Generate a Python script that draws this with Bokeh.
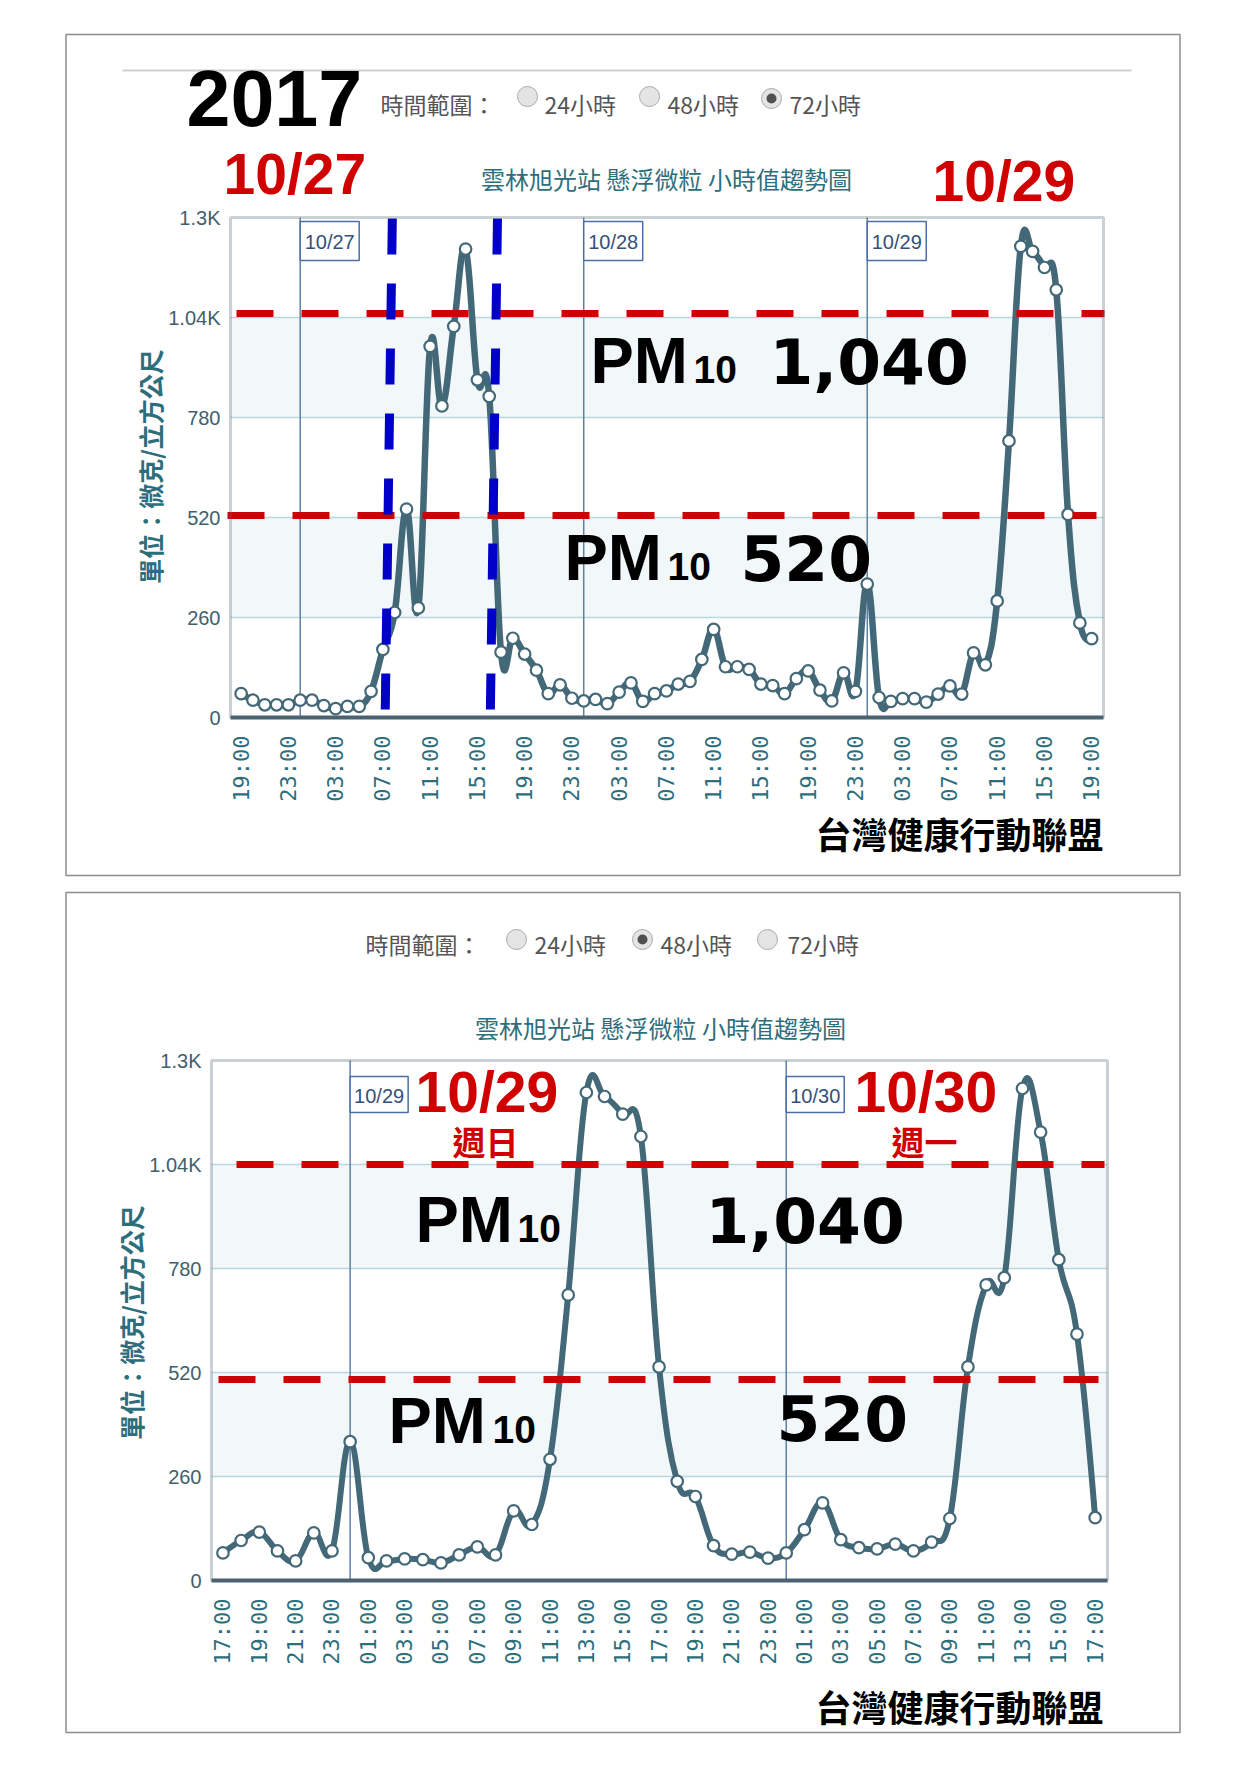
import math
from bokeh.plotting import figure
from bokeh.models import Label, BoxAnnotation, FixedTicker, Range1d, LinearAxis
from bokeh.embed import file_html
from bokeh.resources import INLINE

# ---------------- data ----------------
top_values = [62, 45, 33, 33, 33, 45, 45, 31, 23, 29, 29, 68, 177, 273, 542, 285, 965, 810,
              1017, 1218, 878, 835, 170, 206, 165, 123, 62, 85, 50, 43, 47, 36, 66, 90, 42, 62,
              69, 87, 94, 151, 229, 132, 132, 125, 87, 83, 62, 101, 121, 71, 43, 116, 68, 347,
              52, 42, 49, 49, 40, 61, 82, 61, 168, 137, 303, 719, 1225, 1212, 1170, 1112, 528,
              246, 205]
top_tick_labels = ["19:00", "23:00", "03:00", "07:00", "11:00", "15:00", "19:00", "23:00",
                   "03:00", "07:00", "11:00", "15:00", "19:00", "23:00", "03:00", "07:00",
                   "11:00", "15:00", "19:00"]
top_tick_step = 4
top_day_names = ["10/27", "10/28", "10/29"]
top_day_pos = [5, 29, 53]
top_window = [12.5, 21.4]

bottom_values = [69, 100, 121, 74, 49, 119, 74, 347, 57, 49, 54, 52, 44, 64, 84, 64, 174, 140,
                 303, 714, 1220, 1210, 1166, 1110, 534, 248, 210, 87, 66, 71, 56, 69, 127, 194,
                 102, 82, 79, 91, 74, 96, 155, 534, 739, 757, 1230, 1121, 802, 616, 157]
bottom_tick_labels = ["17:00", "19:00", "21:00", "23:00", "01:00", "03:00", "05:00", "07:00",
                      "09:00", "11:00", "13:00", "15:00", "17:00", "19:00", "21:00", "23:00",
                      "01:00", "03:00", "05:00", "07:00", "09:00", "11:00", "13:00", "15:00",
                      "17:00"]
bottom_tick_step = 2
bottom_day_names = ["10/29", "10/30"]
bottom_day_pos = [7, 31]

y_ticks = [0, 260, 520, 780, 1040, 1300]
y_tick_labels = ["0", "260", "520", "780", "1.04K", "1.3K"]
thresholds = [1040, 520]
bands = [(260, 520), (780, 1040)]
radio_labels = ["24小時", "48小時", "72小時"]
title_text = "雲林旭光站 懸浮微粒 小時值趨勢圖"
axis_title = "單位：微克/立方公尺"
range_label = "時間範圍："
footer = "台灣健康行動聯盟"

# ---------------- styles ----------------
SERIES = "#436877"
RED = "#d10000"
TEAL = "#2d6e7c"
BLUE = "#0000c8"
CJK = "Noto Sans CJK TC"


class Map:
    """page pixel -> data coordinate of one chart frame"""
    def __init__(self, left, top, w, h, xr, yr):
        self.left, self.top, self.w, self.h, self.xr, self.yr = left, top, w, h, xr, yr

    def x(self, X):
        return self.xr[0] + (X - self.left) * (self.xr[1] - self.xr[0]) / self.w

    def y(self, Y):
        return self.yr[0] + (self.top + self.h - Y) * (self.yr[1] - self.yr[0]) / self.h

    def X(self, x):
        return self.left + (x - self.xr[0]) * self.w / (self.xr[1] - self.xr[0])

    def py(self):
        return (self.yr[1] - self.yr[0]) / self.h


def spline(xs, ys, smoothing=1.5):
    n = len(xs)
    cps = []
    for i in range(n):
        x, y = xs[i], ys[i]
        if 0 < i < n - 1:
            lx, ly, nx, ny = xs[i - 1], ys[i - 1], xs[i + 1], ys[i + 1]
            d = smoothing + 1
            lcx, lcy = (smoothing * x + lx) / d, (smoothing * y + ly) / d
            rcx, rcy = (smoothing * x + nx) / d, (smoothing * y + ny) / d
            corr = ((rcy - lcy) * (rcx - x)) / (rcx - lcx) + y - rcy
            cps.append(((lcx, lcy + corr), (rcx, rcy + corr)))
        else:
            cps.append(((x, y), (x, y)))
    out = dict(x0=[], y0=[], x1=[], y1=[], cx0=[], cy0=[], cx1=[], cy1=[])
    for i in range(n - 1):
        out["x0"].append(xs[i]); out["y0"].append(ys[i])
        out["x1"].append(xs[i + 1]); out["y1"].append(ys[i + 1])
        out["cx0"].append(cps[i][1][0]); out["cy0"].append(cps[i][1][1])
        out["cx1"].append(cps[i + 1][0][0]); out["cy1"].append(cps[i + 1][0][1])
    return out


# page geometry of the two chart frames (figure drawn from page pixel 0,0)
m1 = Map(230, 217, 873, 500, (-0.9, 73.0), (0, 1300))
m2 = Map(211, 1060, 896, 520, (-0.63, 48.68), (0, 1300))
PAGE_L, PAGE_T, PAGE_R, PAGE_B = 0, 0, 1225, 1750

p = figure(width=PAGE_R - PAGE_L, height=PAGE_B - PAGE_T,
           x_range=Range1d(m1.x(PAGE_L), m1.x(PAGE_R)),
           y_range=Range1d(m1.y(PAGE_B), m1.y(PAGE_T)),
           x_axis_type=None, y_axis_type=None, output_backend="svg", toolbar_location=None,
           min_border=0)
p.extra_x_ranges = {"x2": Range1d(m2.x(PAGE_L), m2.x(PAGE_R))}
p.extra_y_ranges = {"y2": Range1d(m2.y(PAGE_B), m2.y(PAGE_T))}
p.outline_line_color = None
p.background_fill_color = "white"


def txt(X, Y, s, size, color="#000000", font="Liberation Sans", style="normal",
        align="left", base=False, angle=0.0):
    if base:  # Y given as baseline: move to the middle of the capitals
        Y = Y - 0.36 * size
    p.add_layout(Label(x=m1.x(X), y=m1.y(Y), text=s, text_font=font,
                       text_font_size=f"{size}px", text_color=color, text_font_style=style,
                       text_align=align, text_baseline="middle", angle=angle))


def box(L, T, R, B, fill=None, line=None, lw=1.0, radius=0, level="annotation"):
    p.add_layout(BoxAnnotation(left=m1.x(L), right=m1.x(R), top=m1.y(T), bottom=m1.y(B),
                               fill_color=fill if fill else "white",
                               fill_alpha=1 if fill else 0, line_color=line if line else "white",
                               line_width=lw, line_alpha=1 if line else 0,
                               border_radius=radius, level=level))


def chart(m, xn, yn, values, step, tick_labels, day_pos, day_names, box_top, box_bottom, box_w,
          thr_spans, thr_shift_px, lw):
    rn = dict(x_range_name=xn, y_range_name=yn)
    x0, x1 = m.xr
    xs = list(range(len(values)))
    for b0, b1 in bands:
        p.add_layout(BoxAnnotation(left=x0, right=x1, bottom=b0, top=b1, fill_color="#f2f7fa",
                                   fill_alpha=1, line_alpha=0, level="underlay", **rn))
    inner = y_ticks[1:-1]
    p.segment(x0=[x0] * len(inner), x1=[x1] * len(inner), y0=inner, y1=inner,
              line_color="#b8d8de", line_width=1.5, **rn)
    p.segment(x0=day_pos, x1=day_pos, y0=[0] * len(day_pos), y1=[1300] * len(day_pos),
              line_color="#5f80a6", line_width=1.5, **rn)
    bz = spline(xs, values)
    p.bezier(x0="x0", y0="y0", x1="x1", y1="y1", cx0="cx0", cy0="cy0", cx1="cx1", cy1="cy1",
             source=bz, line_color=SERIES, line_width=lw, line_cap="round", **rn)
    p.scatter(xs, values, size=11.5, fill_color="white", line_color=SERIES, line_width=2.2,
              **rn)
    ty = [t + s * m.py() for t, s in zip(thresholds, thr_shift_px)]
    p.segment(x0=[m.x(a) for a, b in thr_spans], x1=[m.x(b) for a, b in thr_spans],
              y0=ty, y1=ty, line_color=RED, line_width=7,
              line_dash="37 28", line_cap="butt", **rn)
    # frame border
    p.add_layout(BoxAnnotation(left=x0, right=x1, bottom=0, top=1300, fill_alpha=0,
                               line_color="#4f6675", line_width=3, **rn))
    # axes
    ticks = list(range(0, len(values), step))
    xa = LinearAxis(fixed_location=0, bounds=(x0, x1), ticker=FixedTicker(ticks=ticks),
                    major_label_overrides={t: lab for t, lab in zip(ticks, tick_labels)},
                    major_label_orientation=math.pi / 2,
                    major_label_text_font="DejaVu Sans Mono", major_label_text_font_size="22px",
                    major_label_text_color=TEAL, major_label_standoff=12,
                    major_tick_line_color=None, minor_tick_line_color=None,
                    axis_line_color="#4a6170", axis_line_width=4, **rn)
    p.add_layout(xa, "below")
    ya = LinearAxis(fixed_location=x0, bounds=(0, 1300), ticker=FixedTicker(ticks=y_ticks),
                    major_label_overrides={t: lab for t, lab in zip(y_ticks, y_tick_labels)},
                    major_label_text_font="Liberation Sans", major_label_text_font_size="20px",
                    major_label_text_color="#40606c", major_label_standoff=4,
                    major_tick_line_color=None, minor_tick_line_color=None,
                    axis_line_color=None, **rn)
    p.add_layout(ya, "left")
    for d, name in zip(day_pos, day_names):
        X = m.X(d)
        box(X, box_top, X + box_w, box_bottom, fill="white", line="#4a6fa8", lw=1.5)
        txt(X + box_w / 2, (box_top + box_bottom) / 2 + 1, name, 20, color="#34507a",
            align="center")


def radios(centers, texts_x, text_y, selected):
    for i, ((cx, cy), tx, lab) in enumerate(zip(centers, texts_x, radio_labels)):
        box(cx - 10, cy - 10, cx + 10, cy + 10, fill="#e4e4e4", line="#a9a9a9", lw=1, radius=10)
        if i == selected:
            box(cx - 5, cy - 5, cx + 5, cy + 5, fill="#505050", radius=5)
        txt(tx, text_y, lab, 23, color="#555555", font=CJK)


def pm(X, Y, Xsub):
    txt(X, Y, "PM", 65, style="bold", base=True)
    txt(Xsub, Y, "10", 39, style="bold", base=True)


# ================= top panel =================
box(65.5, 34, 1179.5, 875, line="#8c8c8c", lw=1.5)
box(122, 69, 1131, 71, fill="#cfcfcf")
chart(m1, "default", "default", top_values, top_tick_step, top_tick_labels, top_day_pos,
      top_day_names, 221, 260, 59, [(236, 1104), (227, 1096)], [4, 2], 6.5)
p.segment(x0=[w + 0.3 for w in top_window], x1=[w - 0.3 for w in top_window],
          y0=[m1.y(218)] * 2, y1=[m1.y(709)] * 2, line_color=BLUE, line_width=9,
          line_dash="36 29", line_cap="butt")
txt(186, 126, "2017", 79, style="bold", base=True)
txt(380, 103, range_label, 23, color="#555555", font=CJK)
radios([(527, 96), (649, 96), (771, 98)], [544, 667, 789], 103, 2)
txt(223, 194, "10/27", 57, color=RED, style="bold", base=True)
txt(932, 201, "10/29", 57, color=RED, style="bold", base=True)
txt(666, 178, title_text, 24, color=TEAL, font=CJK, align="center")
pm(590, 383, 693)
txt(769, 383, "1,040", 63, font="DejaVu Sans", style="bold", base=True)
pm(564, 580, 667)
txt(740, 580, "520", 63, font="DejaVu Sans", style="bold", base=True)
txt(149, 466, axis_title, 25, color=TEAL, font=CJK, style="bold", align="center",
    angle=math.pi / 2)
txt(1103, 832, footer, 36, font=CJK, style="bold", align="right")

# ================= bottom panel =================
box(65.5, 892, 1179.5, 1732, line="#8c8c8c", lw=1.5)
chart(m2, "x2", "y2", bottom_values, bottom_tick_step, bottom_tick_labels, bottom_day_pos,
      bottom_day_names, 1076, 1112, 58, [(236, 1104), (218, 1098)], [0, -7], 6)
txt(365, 943, range_label, 23, color="#555555", font=CJK)
radios([(516, 939), (642, 939), (767, 939)], [534, 660, 787], 943, 1)
txt(660, 1027, title_text, 24, color=TEAL, font=CJK, align="center")
txt(415, 1112, "10/29", 57, color=RED, style="bold", base=True)
txt(485, 1140, "週日", 33, color=RED, font=CJK, style="bold", align="center")
txt(854, 1112, "10/30", 57, color=RED, style="bold", base=True)
txt(924, 1140, "週一", 33, color=RED, font=CJK, style="bold", align="center")
pm(415, 1242, 517)
txt(705, 1242, "1,040", 63, font="DejaVu Sans", style="bold", base=True)
pm(388, 1443, 492)
txt(776, 1440, "520", 63, font="DejaVu Sans", style="bold", base=True)
txt(130, 1322, axis_title, 25, color=TEAL, font=CJK, style="bold", align="center",
    angle=math.pi / 2)
txt(1103, 1705, footer, 36, font=CJK, style="bold", align="right")

open("out.html", "w").write(file_html(p, INLINE))
